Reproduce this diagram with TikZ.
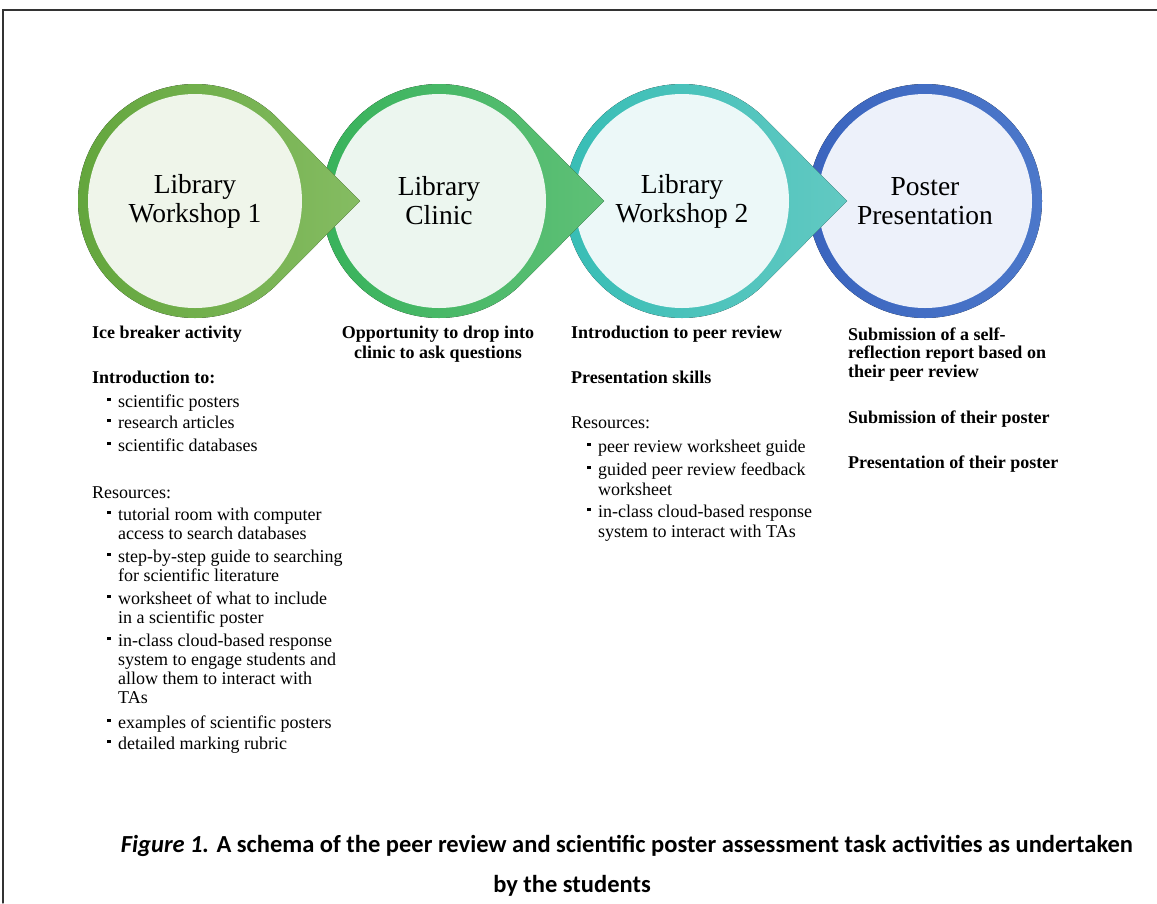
\documentclass[tikz,border=0pt]{standalone}
\usepackage{fontspec}
\setmainfont{Liberation Serif}
\newfontfamily\capfont{Carlito}
\usetikzlibrary{calc}

\definecolor{ringA}{HTML}{62A53B}
\definecolor{tipA}{HTML}{85BC62}
\definecolor{fillA}{HTML}{EFF5EA}
\definecolor{ringB}{HTML}{36B25A}
\definecolor{tipB}{HTML}{5FC077}
\definecolor{fillB}{HTML}{ECF6EF}
\definecolor{ringC}{HTML}{36BDB5}
\definecolor{tipC}{HTML}{62C9C2}
\definecolor{fillC}{HTML}{ECF8F8}
\definecolor{ringD}{HTML}{3A64BE}
\definecolor{tipD}{HTML}{4C78CA}
\definecolor{fillD}{HTML}{EDF1FA}

\newcommand{\bul}{\makebox[11pt][l]{\raisebox{6pt}{\rule{3.4pt}{3.4pt}}}}

\begin{document}
\begin{tikzpicture}[x=1pt, y=-1pt, line cap=round,
  inner/.style={circle, minimum size=214pt, inner sep=0, align=center,
    font=\fontsize{27.5}{29}\selectfont},
  body/.style={anchor=base west, inner sep=0, font=\fontsize{18}{20}\selectfont},
  head/.style={anchor=base west, inner sep=0, font=\fontsize{18}{20}\selectfont\bfseries},
  captext/.style={anchor=base, inner sep=0, font=\capfont\bfseries\fontsize{24.5}{28}\selectfont}]
		\useasboundingbox (0,0) rectangle (1157,903);
		
		% Coordinates
		\coordinate (C1) at (195,201);
		\coordinate (C2) at (439,201);
		\coordinate (C3) at (682,201);
		\coordinate (C4) at (925,201);
		\coordinate (T1) at ($(C1)+(165,0)$);
		\coordinate (T2) at ($(C2)+(165,0)$);
		\coordinate (T3) at ($(C3)+(165,0)$);
		\coordinate (F1) at (3,903);
		\coordinate (F2) at (3,10);
		\coordinate (F3) at (1157,10);
		
		% Frame
		\draw[line width=1.3pt, black!80] (F1) -- (F2) -- (F3);
		
		% Circles (right to left, so each tip lies over the next circle)
		\fill[left color=ringD, right color=tipD] (C4) circle (117pt);
		\node[inner, fill=fillD] (poster) at (C4) {Poster\\Presentation};
		%
		\fill[left color=ringC, right color=tipC] (T3) -- ($(C3)+(45:117pt)$)
			arc[start angle=45, end angle=315, radius=117pt] -- cycle;
		\node[inner, fill=fillC] (lw2) at (C3) {Library\\Workshop 2};
		%
		\fill[left color=ringB, right color=tipB] (T2) -- ($(C2)+(45:117pt)$)
			arc[start angle=45, end angle=315, radius=117pt] -- cycle;
		\node[inner, fill=fillB] (clinic) at (C2) {Library\\Clinic};
		%
		\fill[left color=ringA, right color=tipA] (T1) -- ($(C1)+(45:117pt)$)
			arc[start angle=45, end angle=315, radius=117pt] -- cycle;
		\node[inner, fill=fillA] (lw1) at (C1) {Library\\Workshop 1};
		
		% Nodes: workshop 1
		\node[head] (a1) at (92,338) {Ice breaker activity};
		\node[head] (a2) at (92,383) {Introduction to:};
		\node[body] (a3) at (107,407) {\bul scientific posters};
		\node[body] (a4) at (107,428) {\bul research articles};
		\node[body] (a5) at (107,451) {\bul scientific databases};
		\node[body] (a6) at (92,498) {Resources:};
		\node[body] (a7) at (107,520) {\bul tutorial room with computer};
		\node[body] (a8) at (118,539) {access to search databases};
		\node[body] (a9) at (107,562) {\bul step-by-step guide to searching};
		\node[body] (a10) at (118,581) {for scientific literature};
		\node[body] (a11) at (107,604) {\bul worksheet of what to include};
		\node[body] (a12) at (118,623) {in a scientific poster};
		\node[body] (a13) at (107,646) {\bul in-class cloud-based response};
		\node[body] (a14) at (118,665) {system to engage students and};
		\node[body] (a15) at (118,684) {allow them to interact with};
		\node[body] (a16) at (118,703) {TAs};
		\node[body] (a17) at (107,728) {\bul examples of scientific posters};
		\node[body] (a18) at (107,749) {\bul detailed marking rubric};
		%
		% Nodes: clinic
		\node[head, anchor=base] (b1) at (438,338) {Opportunity to drop into};
		\node[head, anchor=base] (b2) at (438,358) {clinic to ask questions};
		%
		% Nodes: workshop 2
		\node[head] (c1) at (571,338) {Introduction to peer review};
		\node[head] (c2) at (571,383) {Presentation skills};
		\node[body] (c3) at (571,428) {Resources:};
		\node[body] (c4) at (587,452) {\bul peer review worksheet guide};
		\node[body] (c5) at (587,475) {\bul guided peer review feedback};
		\node[body] (c6) at (598,495) {worksheet};
		\node[body] (c7) at (587,517) {\bul in-class cloud-based response};
		\node[body] (c8) at (598,537) {system to interact with TAs};
		%
		% Nodes: poster
		\node[head] (d1) at (848,340) {Submission of a self-};
		\node[head] (d2) at (848,358) {reflection report based on};
		\node[head] (d3) at (848,377) {their peer review};
		\node[head] (d4) at (848,423) {Submission of their poster};
		\node[head] (d5) at (848,468) {Presentation of their poster};
		
		% Caption
		\node[captext] (cap1) at (627,852) {\textit{Figure 1.} A schema of the peer review and scientific poster assessment task activities as undertaken};
		\node[captext] (cap2) at (572,892) {by the students};
	\end{tikzpicture}
\end{document}
